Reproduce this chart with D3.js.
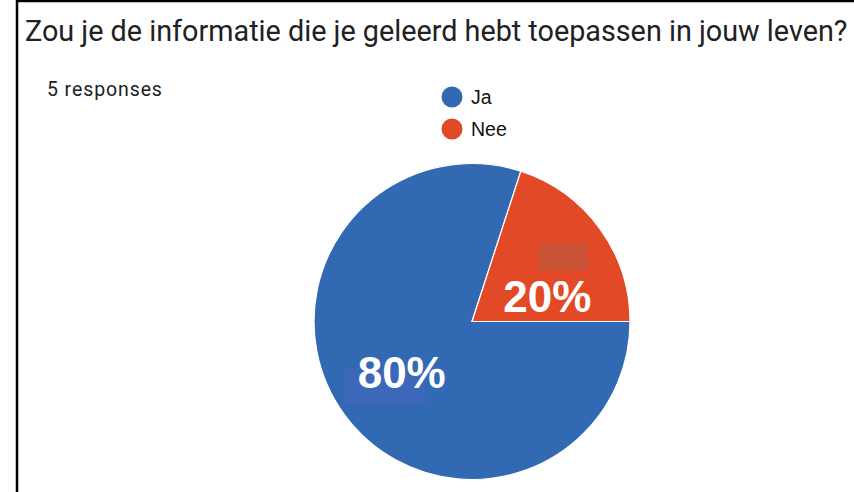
<!DOCTYPE html>
<html>
<head>
<meta charset="utf-8">
<script src="https://cdn.jsdelivr.net/npm/d3@7"></script>
<style>
  html, body { margin: 0; padding: 0; background: #fff; }
  svg { display: block; }
</style>
</head>
<body>
<svg id="chart" width="854" height="492"></svg>
<script>
// Survey question and answers
const title = "Zou je de informatie die je geleerd hebt toepassen in jouw leven?";
const subtitle = "5 responses";
const categories = ["Ja", "Nee"];
const counts = [4, 1];
const colors = ["#3169b3", "#e24a27"];

const W = 854, H = 492;
const svg = d3.select("#chart");

// card outline (left and top edges)
svg.append("path")
  .attr("d", `M17,${H} V1 H${W}`)
  .attr("fill", "none")
  .attr("stroke", "#000")
  .attr("stroke-width", 2.5);

// title, sized to span the card width
const titleEl = svg.append("text")
  .attr("x", 25).attr("y", 41)
  .attr("font-family", "Roboto, sans-serif")
  .attr("font-size", 25)
  .attr("fill", "#202124")
  .text(title);
const tw = titleEl.node().getComputedTextLength();
titleEl.attr("font-size", 25 * 823 / tw);

svg.append("text")
  .attr("x", 47).attr("y", 96)
  .attr("font-family", "Roboto, sans-serif")
  .attr("font-size", 19.5)
  .attr("letter-spacing", 0.9)
  .attr("fill", "#202124")
  .text(subtitle);

// legend
const color = d3.scaleOrdinal().domain(categories).range(colors);
const legendY = d3.scalePoint().domain(categories).range([97, 129]);
const legend = svg.append("g");
categories.forEach(c => {
  legend.append("circle")
    .attr("cx", 452).attr("cy", legendY(c)).attr("r", 10.5)
    .attr("fill", color(c));
  legend.append("text")
    .attr("x", 471).attr("y", legendY(c))
    .attr("dy", "0.36em")
    .attr("font-family", "Liberation Sans, Arial, sans-serif")
    .attr("font-size", 19.5)
    .attr("fill", "#111")
    .text(c);
});

// pie
const cx = 472, cy = 321.5, R = 158;
const total = d3.sum(counts);
const pie = d3.pie().sort(null).value(d => d.v)
  .startAngle(Math.PI / 2).endAngle(Math.PI / 2 + 2 * Math.PI);
const arcs = pie(categories.map((c, i) => ({ c, v: counts[i] })));
const arc = d3.arc().innerRadius(0).outerRadius(R);
const labelArc = d3.arc().innerRadius(R * 0.55).outerRadius(R * 0.55);

const g = svg.append("g").attr("transform", `translate(${cx},${cy})`);
g.selectAll("path.slice").data(arcs).join("path")
  .attr("class", "slice")
  .attr("d", arc)
  .attr("fill", d => color(d.data.c))
  .attr("stroke", "#fff")
  .attr("stroke-width", 1.2);

// faint highlight patches behind the percentage labels
const patchFill = { Ja: "#3d67b8", Nee: "#cb5337" };
const patchBox = { Ja: [-58, -5, 82, 38], Nee: [-9.5, -53, 50, 27] };

// small slices get their label pushed toward the horizontal edge
const nudge = { Ja: [0, 0], Nee: [5, 26] };

arcs.forEach(d => {
  const [lx, ly] = labelArc.centroid(d);
  const [nx, ny] = nudge[d.data.c];
  const px = lx + nx, py = ly + ny;
  const pb = patchBox[d.data.c];
  g.append("rect")
    .attr("x", px + pb[0]).attr("y", py + pb[1])
    .attr("width", pb[2]).attr("height", pb[3])
    .attr("fill", patchFill[d.data.c]);
  g.append("text")
    .attr("x", px).attr("y", py)
    .attr("dy", "0.36em")
    .attr("text-anchor", "middle")
    .attr("font-family", "Liberation Sans, Arial, sans-serif")
    .attr("font-weight", "bold")
    .attr("font-size", 44)
    .attr("fill", "#fff")
    .text(d3.format(".0%")(d.data.v / total));
});
</script>
</body>
</html>
